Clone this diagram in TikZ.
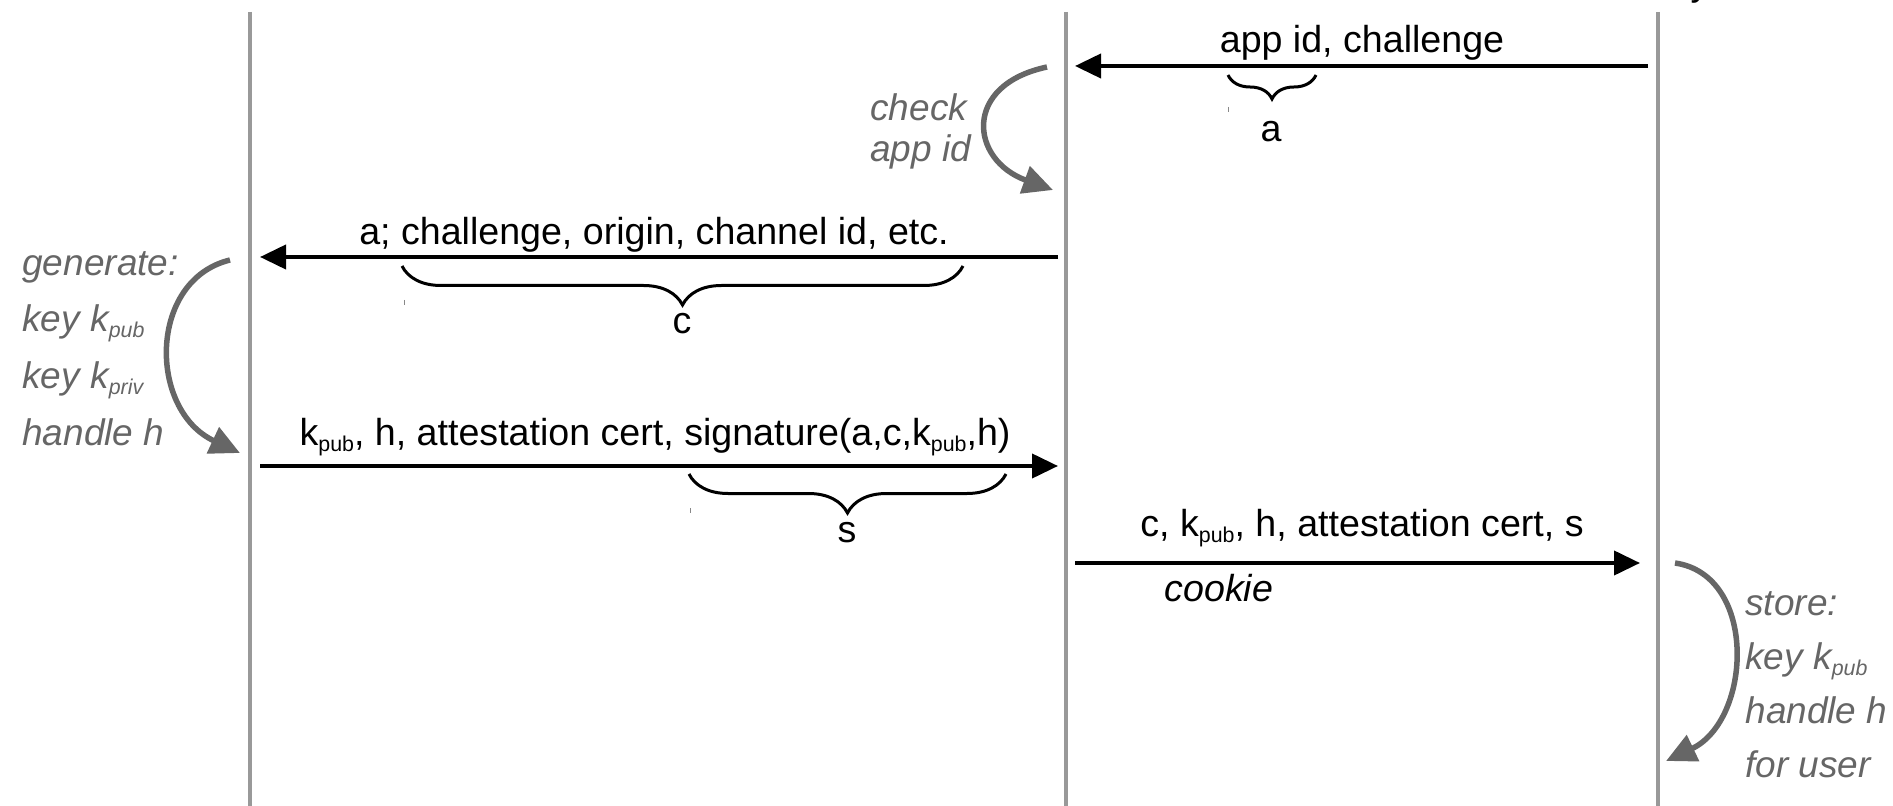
\documentclass[tikz,border=0pt]{standalone}
\usepackage{fontspec}
\setmainfont{Liberation Sans}
\usetikzlibrary{arrows.meta,decorations.pathreplacing}
\definecolor{lifegray}{HTML}{999999}
\definecolor{notegray}{HTML}{666666}
\definecolor{tickgray}{HTML}{888888}
\newcommand{\sbs}[1]{\raisebox{-3pt}{\fontsize{10.7}{10.7}\selectfont #1}}
\begin{document}
\begin{tikzpicture}[x=0.5pt,y=-0.5pt,
  lifeline/.style={draw=lifegray,line width=2.4pt},
  msg/.style={draw=black,line width=2pt,-{Triangle[length=13pt,width=12pt]}},
  note/.style={draw=notegray,line width=2.75pt,-{Triangle[length=15pt,width=14pt]}},
  lbl/.style={inner sep=0pt,anchor=base,font=\fontsize{18.8}{22}\selectfont},
  notetxt/.style={inner sep=0pt,anchor=base west,text=notegray,font=\fontsize{18.5}{22}\selectfont\itshape},
  brc/.style={draw=black,line width=1.5pt,decorate,decoration={brace,mirror,amplitude=#1}},
  tick/.style={draw=tickgray,line width=0.5pt}]
\useasboundingbox (0,0) rectangle (1893,806);
% cut-off heading fragment
\node[lbl] (head) at (1700,-4) {y};
% lifelines
\coordinate (L1t) at (250,12);  \coordinate (L1b) at (250,806);
\coordinate (L2t) at (1066,12); \coordinate (L2b) at (1066,806);
\coordinate (L3t) at (1658,12); \coordinate (L3b) at (1658,806);
\draw[lifeline] (L1t) -- (L1b);
\draw[lifeline] (L2t) -- (L2b);
\draw[lifeline] (L3t) -- (L3b);
% message 1
\coordinate (m1s) at (1648,66); \coordinate (m1e) at (1075,66);
\draw[msg] (m1s) -- (m1e);
\node[lbl] (t1) at (1362,53) {app id, challenge};
\coordinate (ba1) at (1228,75); \coordinate (ba2) at (1316,75);
\draw[brc=12pt] (ba1) -- (ba2);
\node[lbl] (la) at (1271,142) {a};
\coordinate (ka1) at (1228,107); \coordinate (ka2) at (1228,112);
\draw[tick] (ka1) -- (ka2);
% check app id
\coordinate (c1s) at (1047,67); \coordinate (c1e) at (1053,190);
\draw[note] (c1s) .. controls (962,85) and (970,160) .. (c1e);
\node[notetxt] (chk1) at (870,121) {check};
\node[notetxt] (chk2) at (870,162) {app id};
% message 2
\coordinate (m2s) at (1058,257); \coordinate (m2e) at (260,257);
\draw[msg] (m2s) -- (m2e);
\node[lbl] (t2) at (654,245) {a; challenge, origin, channel id, etc.};
\coordinate (bc1) at (402,266); \coordinate (bc2) at (963,266);
\draw[brc=19.5pt] (bc1) -- (bc2);
\node[lbl] (lc) at (682,334) {c};
\coordinate (kc1) at (404,300); \coordinate (kc2) at (404,305);
\draw[tick] (kc1) -- (kc2);
% generate
\coordinate (g1s) at (230,260); \coordinate (g1e) at (240,453);
\draw[note] (g1s) .. controls (148,280) and (148,410) .. (g1e);
\node[notetxt] (gen1) at (22,276) {generate:};
\node[notetxt] (gen2) at (22,332) {key k\sbs{pub}};
\node[notetxt] (gen3) at (22,389) {key k\sbs{priv}};
\node[notetxt] (gen4) at (22,445) {handle h};
% message 3
\coordinate (m3s) at (260,466); \coordinate (m3e) at (1058,466);
\draw[msg] (m3s) -- (m3e);
\node[lbl] (t3) at (655,445) {k\sbs{pub}, h, attestation cert, signature(a,c,k\sbs{pub},h)};
\coordinate (bs1) at (689,474); \coordinate (bs2) at (1006,474);
\draw[brc=19.5pt] (bs1) -- (bs2);
\node[lbl] (ls) at (847,542) {s};
\coordinate (ks1) at (690,508); \coordinate (ks2) at (690,513);
\draw[tick] (ks1) -- (ks2);
% message 4
\coordinate (m4s) at (1075,563); \coordinate (m4e) at (1640,563);
\draw[msg] (m4s) -- (m4e);
\node[lbl] (t4) at (1362,536) {c, k\sbs{pub}, h, attestation cert, s};
\node[lbl,anchor=base west,font=\fontsize{18.8}{22}\selectfont\itshape] (cookie) at (1164,601) {cookie};
% store
\coordinate (s1s) at (1675,563); \coordinate (s1e) at (1666,761);
\draw[note] (s1s) .. controls (1758,575) and (1752,720) .. (s1e);
\node[notetxt] (st1) at (1745,615) {store:};
\node[notetxt] (st2) at (1745,669) {key k\sbs{pub}};
\node[notetxt] (st3) at (1745,723) {handle h};
\node[notetxt] (st4) at (1745,777) {for user};
\end{tikzpicture}
\end{document}
